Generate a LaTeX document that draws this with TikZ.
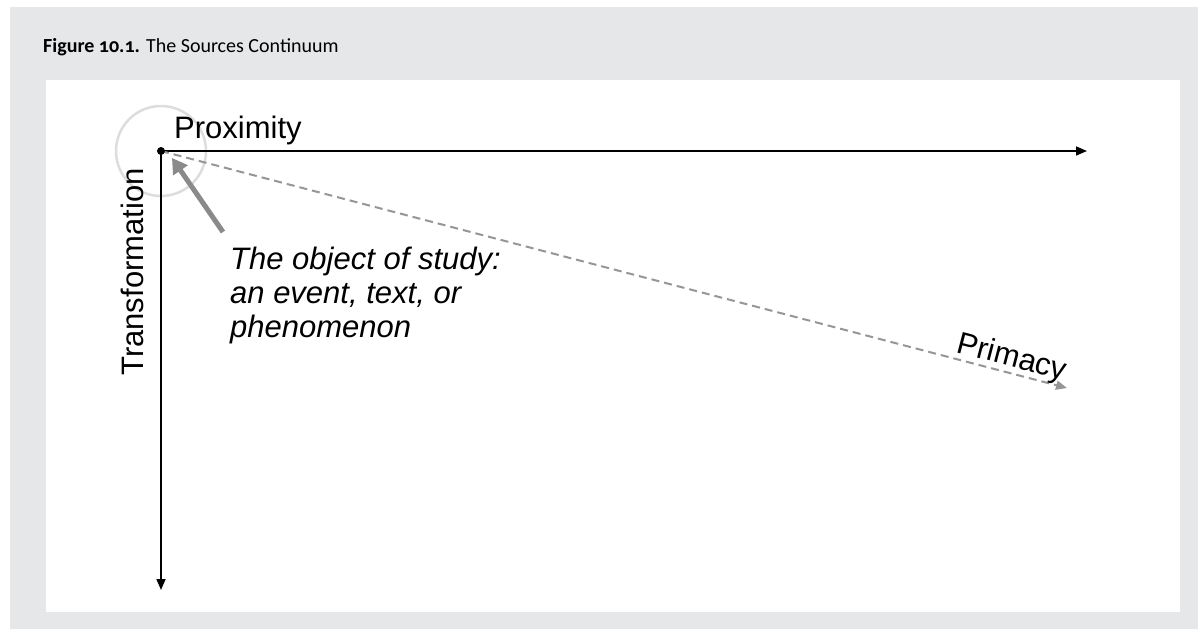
\documentclass[tikz,border=0pt]{standalone}
\usepackage{fontspec}
\setmainfont{Liberation Sans}
\newfontfamily\titlefont[Numbers=OldStyle]{Carlito}
\usetikzlibrary{arrows.meta, positioning, calc}
\definecolor{panelgray}{HTML}{E6E7E8}
\definecolor{ringgray}{HTML}{DDDDDD}
\definecolor{pointergray}{HTML}{8A8A8A}
\definecolor{dashgray}{HTML}{969696}

\begin{document}
\begin{tikzpicture}[x=1pt, y=-1pt,
	axis/.style={line width=1.7pt, -{Triangle[length=11pt, width=9pt]}},
	label/.style={font=\fontsize{31}{34}\selectfont, inner sep=0pt}]
	% Frame
	\useasboundingbox (0,0) rectangle (1198,629);
	\fill[panelgray] (10,7) rectangle (1198,629);
	\fill[white] (46,80) rectangle (1180,612);
	\node[anchor=base west, inner sep=0pt, font=\titlefont\fontsize{20}{24}\selectfont] (title) at (43,52) {\textbf{Figure 10.1.} The Sources Continuum};
	% Axes
	\coordinate (origin) at (161,151);
	\coordinate (xend) at (1087,151);
	\coordinate (yend) at (161,590);
	\coordinate (zend) at (1067,388);
	\draw[ringgray, line width=2.5pt] (origin) circle (45pt);
	\draw[axis] (origin) -- (xend);
	\draw[axis] (origin) -- (yend);
	\draw[dashgray, line width=2pt, dash pattern=on 8pt off 5pt, -{Triangle[length=11pt, width=9pt]}] (origin) -- (zend);
	\fill (origin) circle (4pt);
	% Labels
	\node[label, anchor=base west] (prox) at (174,138) {Proximity};
	\node[label, anchor=base, rotate=90] (trans) at (143,272) {Transformation};
	\node[label, font=\fontsize{31}{34}\selectfont\itshape, anchor=north west, align=left] (note) at (230,247) {The object of study:\\an event, text, or\\phenomenon};
	\node[label, rotate=-14.6, anchor=south] (prim) at ($(origin)!0.935!(zend)$) {Primacy};
	% Pointer
	\coordinate (tail) at (223,232);
	\coordinate (tip) at (172,158);
	\draw[pointergray, line width=5pt, -{Triangle[length=15pt, width=17pt]}] (tail) -- (tip);
\end{tikzpicture}
\end{document}
